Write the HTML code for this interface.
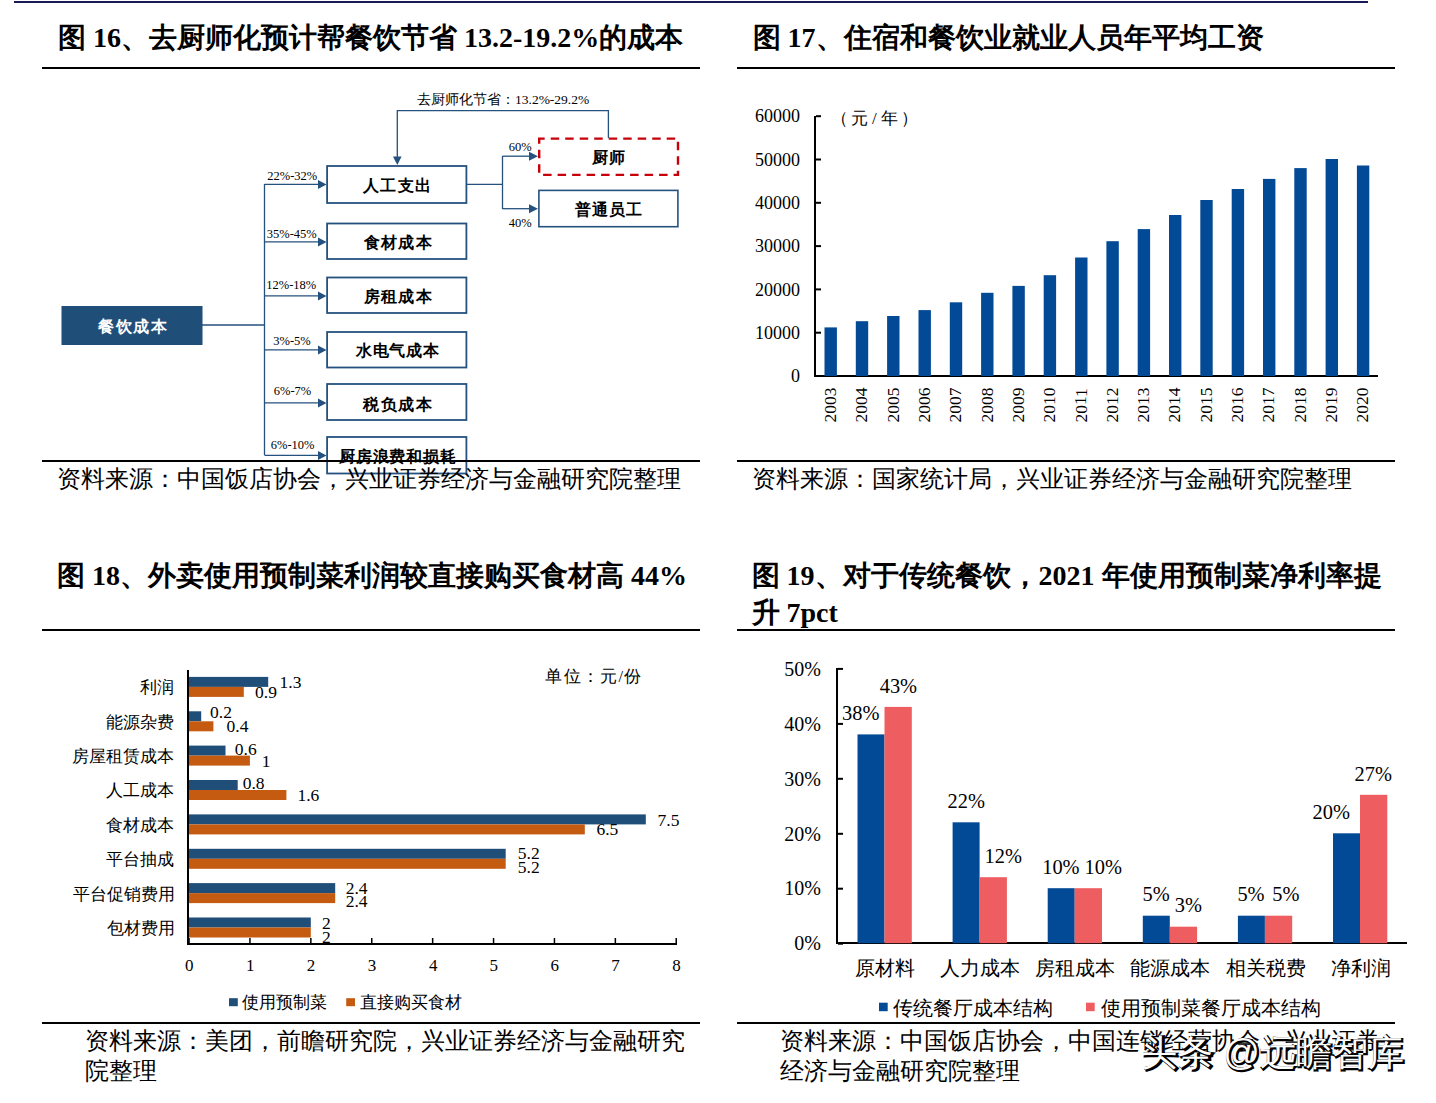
<!DOCTYPE html>
<html><head><meta charset="utf-8">
<style>
html,body{margin:0;padding:0;background:#fff;}
body{width:1436px;height:1103px;overflow:hidden;position:relative;}
svg{position:absolute;left:0;top:0;}
svg{font-family:"Liberation Serif",serif;}
.t{font-weight:bold;font-size:28px;fill:#000;}
.s{font-size:24px;fill:#000;}
</style></head><body>
<svg width="1436" height="1103" viewBox="0 0 1436 1103">
<rect x="61.5" y="306" width="141" height="39" fill="#1f4e79"/>
<line x1="202" y1="325" x2="264.5" y2="325" stroke="#25517e" stroke-width="1.3"/>
<line x1="264.5" y1="184" x2="264.5" y2="455" stroke="#25517e" stroke-width="1.3"/>
<rect x="327.1" y="166" width="139.3" height="37" fill="#fff" stroke="#25517e" stroke-width="1.8"/>
<line x1="264.5" y1="184.4" x2="319" y2="184.4" stroke="#25517e" stroke-width="1.2"/>
<path d="M318 179.9 L326.5 184.4 L318 188.9 Z" fill="#25517e"/>
<rect x="327.1" y="223.5" width="139.3" height="35.5" fill="#fff" stroke="#25517e" stroke-width="1.8"/>
<line x1="264.5" y1="241.9" x2="319" y2="241.9" stroke="#25517e" stroke-width="1.2"/>
<path d="M318 237.4 L326.5 241.9 L318 246.4 Z" fill="#25517e"/>
<rect x="327.1" y="277.5" width="139.3" height="35.5" fill="#fff" stroke="#25517e" stroke-width="1.8"/>
<line x1="264.5" y1="295.9" x2="319" y2="295.9" stroke="#25517e" stroke-width="1.2"/>
<path d="M318 291.4 L326.5 295.9 L318 300.4 Z" fill="#25517e"/>
<rect x="327.1" y="332" width="139.3" height="35.5" fill="#fff" stroke="#25517e" stroke-width="1.8"/>
<line x1="264.5" y1="349.9" x2="319" y2="349.9" stroke="#25517e" stroke-width="1.2"/>
<path d="M318 345.4 L326.5 349.9 L318 354.4 Z" fill="#25517e"/>
<rect x="327.1" y="384" width="139.3" height="36" fill="#fff" stroke="#25517e" stroke-width="1.8"/>
<line x1="264.5" y1="402.9" x2="319" y2="402.9" stroke="#25517e" stroke-width="1.2"/>
<path d="M318 398.4 L326.5 402.9 L318 407.4 Z" fill="#25517e"/>
<rect x="327.1" y="437" width="139.3" height="36.5" fill="#fff" stroke="#25517e" stroke-width="1.8"/>
<line x1="264.5" y1="455.4" x2="319" y2="455.4" stroke="#25517e" stroke-width="1.2"/>
<path d="M318 450.9 L326.5 455.4 L318 459.9 Z" fill="#25517e"/>
<line x1="467" y1="184.3" x2="502.5" y2="184.3" stroke="#25517e" stroke-width="1.3"/>
<line x1="502.5" y1="156" x2="502.5" y2="209" stroke="#25517e" stroke-width="1.3"/>
<line x1="502.5" y1="156.2" x2="530" y2="156.2" stroke="#25517e" stroke-width="1.3"/>
<path d="M529 151.7 L538 156.2 L529 160.7 Z" fill="#25517e"/>
<line x1="502.5" y1="208.7" x2="530" y2="208.7" stroke="#25517e" stroke-width="1.3"/>
<path d="M529 204.2 L538 208.7 L529 213.2 Z" fill="#25517e"/>
<rect x="539.2" y="138.6" width="138.8" height="36.3" fill="none" stroke="#c8000a" stroke-width="2.4" stroke-dasharray="8.5,6" stroke-dashoffset="3"/>
<rect x="538.9" y="190.4" width="139" height="36.3" fill="#fff" stroke="#25517e" stroke-width="1.6"/>
<polyline points="608.4,138 608.4,110.7 397.3,110.7 397.3,157" fill="none" stroke="#25517e" stroke-width="1.3"/>
<path d="M393 156.5 L397.3 165 L401.6 156.5 Z" fill="#25517e"/>
<rect x="814" y="116" width="2" height="261" fill="#000"/>
<rect x="814" y="375" width="564" height="2" fill="#000"/>
<rect x="816" y="375.0" width="5" height="2" fill="#000"/>
<rect x="816" y="331.7" width="5" height="2" fill="#000"/>
<rect x="816" y="288.4" width="5" height="2" fill="#000"/>
<rect x="816" y="245.1" width="5" height="2" fill="#000"/>
<rect x="816" y="201.8" width="5" height="2" fill="#000"/>
<rect x="816" y="158.5" width="5" height="2" fill="#000"/>
<rect x="816" y="115.2" width="5" height="2" fill="#000"/>
<rect x="824.5" y="327.4" width="12.4" height="48.6" fill="#034a96"/>
<path id="yp0" d="M835.9 422.5 L835.9 360" fill="none"/>
<text font-size="17.5" font-family="Liberation Serif"><textPath href="#yp0">2003</textPath></text>
<rect x="855.8" y="321.2" width="12.4" height="54.8" fill="#034a96"/>
<path id="yp1" d="M867.2 422.5 L867.2 360" fill="none"/>
<text font-size="17.5" font-family="Liberation Serif"><textPath href="#yp1">2004</textPath></text>
<rect x="887.1" y="316" width="12.4" height="60.0" fill="#034a96"/>
<path id="yp2" d="M898.5 422.5 L898.5 360" fill="none"/>
<text font-size="17.5" font-family="Liberation Serif"><textPath href="#yp2">2005</textPath></text>
<rect x="918.5" y="310.1" width="12.4" height="65.9" fill="#034a96"/>
<path id="yp3" d="M929.9 422.5 L929.9 360" fill="none"/>
<text font-size="17.5" font-family="Liberation Serif"><textPath href="#yp3">2006</textPath></text>
<rect x="949.8" y="302.3" width="12.4" height="73.7" fill="#034a96"/>
<path id="yp4" d="M961.2 422.5 L961.2 360" fill="none"/>
<text font-size="17.5" font-family="Liberation Serif"><textPath href="#yp4">2007</textPath></text>
<rect x="981.1" y="292.8" width="12.4" height="83.2" fill="#034a96"/>
<path id="yp5" d="M992.5 422.5 L992.5 360" fill="none"/>
<text font-size="17.5" font-family="Liberation Serif"><textPath href="#yp5">2008</textPath></text>
<rect x="1012.4" y="285.9" width="12.4" height="90.1" fill="#034a96"/>
<path id="yp6" d="M1023.8 422.5 L1023.8 360" fill="none"/>
<text font-size="17.5" font-family="Liberation Serif"><textPath href="#yp6">2009</textPath></text>
<rect x="1043.7" y="275.2" width="12.4" height="100.8" fill="#034a96"/>
<path id="yp7" d="M1055.1 422.5 L1055.1 360" fill="none"/>
<text font-size="17.5" font-family="Liberation Serif"><textPath href="#yp7">2010</textPath></text>
<rect x="1075.1" y="257.5" width="12.4" height="118.5" fill="#034a96"/>
<path id="yp8" d="M1086.5 422.5 L1086.5 360" fill="none"/>
<text font-size="17.5" font-family="Liberation Serif"><textPath href="#yp8">2011</textPath></text>
<rect x="1106.4" y="241.2" width="12.4" height="134.8" fill="#034a96"/>
<path id="yp9" d="M1117.8 422.5 L1117.8 360" fill="none"/>
<text font-size="17.5" font-family="Liberation Serif"><textPath href="#yp9">2012</textPath></text>
<rect x="1137.7" y="229.1" width="12.4" height="146.9" fill="#034a96"/>
<path id="yp10" d="M1149.1 422.5 L1149.1 360" fill="none"/>
<text font-size="17.5" font-family="Liberation Serif"><textPath href="#yp10">2013</textPath></text>
<rect x="1169.0" y="215" width="12.4" height="161.0" fill="#034a96"/>
<path id="yp11" d="M1180.4 422.5 L1180.4 360" fill="none"/>
<text font-size="17.5" font-family="Liberation Serif"><textPath href="#yp11">2014</textPath></text>
<rect x="1200.3" y="200" width="12.4" height="176.0" fill="#034a96"/>
<path id="yp12" d="M1211.7 422.5 L1211.7 360" fill="none"/>
<text font-size="17.5" font-family="Liberation Serif"><textPath href="#yp12">2015</textPath></text>
<rect x="1231.7" y="189" width="12.4" height="187.0" fill="#034a96"/>
<path id="yp13" d="M1243.1 422.5 L1243.1 360" fill="none"/>
<text font-size="17.5" font-family="Liberation Serif"><textPath href="#yp13">2016</textPath></text>
<rect x="1263.0" y="178.9" width="12.4" height="197.1" fill="#034a96"/>
<path id="yp14" d="M1274.4 422.5 L1274.4 360" fill="none"/>
<text font-size="17.5" font-family="Liberation Serif"><textPath href="#yp14">2017</textPath></text>
<rect x="1294.3" y="168.1" width="12.4" height="207.9" fill="#034a96"/>
<path id="yp15" d="M1305.7 422.5 L1305.7 360" fill="none"/>
<text font-size="17.5" font-family="Liberation Serif"><textPath href="#yp15">2018</textPath></text>
<rect x="1325.6" y="159" width="12.4" height="217.0" fill="#034a96"/>
<path id="yp16" d="M1337.0 422.5 L1337.0 360" fill="none"/>
<text font-size="17.5" font-family="Liberation Serif"><textPath href="#yp16">2019</textPath></text>
<rect x="1356.9" y="165.5" width="12.4" height="210.5" fill="#034a96"/>
<path id="yp17" d="M1368.3 422.5 L1368.3 360" fill="none"/>
<text font-size="17.5" font-family="Liberation Serif"><textPath href="#yp17">2020</textPath></text>
<rect x="187" y="670" width="2" height="275" fill="#000"/>
<rect x="187" y="943" width="490" height="2" fill="#000"/>
<rect x="188.3" y="938" width="1.5" height="5" fill="#000"/>
<rect x="249.2" y="938" width="1.5" height="5" fill="#000"/>
<rect x="310.1" y="938" width="1.5" height="5" fill="#000"/>
<rect x="371.0" y="938" width="1.5" height="5" fill="#000"/>
<rect x="431.9" y="938" width="1.5" height="5" fill="#000"/>
<rect x="492.8" y="938" width="1.5" height="5" fill="#000"/>
<rect x="553.7" y="938" width="1.5" height="5" fill="#000"/>
<rect x="614.6" y="938" width="1.5" height="5" fill="#000"/>
<rect x="675.5" y="938" width="1.5" height="5" fill="#000"/>
<rect x="189" y="676.9" width="79.2" height="10" fill="#1f4e79"/>
<rect x="189" y="686.9" width="54.8" height="10" fill="#c55a11"/>
<rect x="189" y="711.3" width="12.2" height="10" fill="#1f4e79"/>
<rect x="189" y="721.3" width="24.4" height="10" fill="#c55a11"/>
<rect x="189" y="745.6" width="36.5" height="10" fill="#1f4e79"/>
<rect x="189" y="755.6" width="60.9" height="10" fill="#c55a11"/>
<rect x="189" y="780.0" width="48.7" height="10" fill="#1f4e79"/>
<rect x="189" y="790.0" width="97.4" height="10" fill="#c55a11"/>
<rect x="189" y="814.4" width="456.8" height="10" fill="#1f4e79"/>
<rect x="189" y="824.4" width="395.8" height="10" fill="#c55a11"/>
<rect x="189" y="848.8" width="316.7" height="10" fill="#1f4e79"/>
<rect x="189" y="858.8" width="316.7" height="10" fill="#c55a11"/>
<rect x="189" y="883.1" width="146.2" height="10" fill="#1f4e79"/>
<rect x="189" y="893.1" width="146.2" height="10" fill="#c55a11"/>
<rect x="189" y="917.5" width="121.8" height="10" fill="#1f4e79"/>
<rect x="189" y="927.5" width="121.8" height="10" fill="#c55a11"/>
<rect x="229" y="998.2" width="8.8" height="8" fill="#1f4e79"/>
<rect x="346.2" y="998.2" width="8.8" height="8" fill="#c55a11"/>
<rect x="836" y="668" width="2" height="276" fill="#000"/>
<rect x="836" y="942" width="571" height="2" fill="#000"/>
<rect x="838" y="942.7" width="5" height="2" fill="#000"/>
<rect x="838" y="887.7" width="5" height="2" fill="#000"/>
<rect x="838" y="832.8" width="5" height="2" fill="#000"/>
<rect x="838" y="777.8" width="5" height="2" fill="#000"/>
<rect x="838" y="722.9" width="5" height="2" fill="#000"/>
<rect x="838" y="667.9" width="5" height="2" fill="#000"/>
<rect x="857.5" y="734.4" width="27" height="208.8" fill="#034a96"/>
<rect x="884.5" y="706.9" width="27.3" height="236.3" fill="#ee5e60"/>
<rect x="952.6" y="822.3" width="27" height="120.9" fill="#034a96"/>
<rect x="979.6" y="877.2" width="27.3" height="66.0" fill="#ee5e60"/>
<rect x="1047.7" y="888.2" width="27" height="55.0" fill="#034a96"/>
<rect x="1074.7" y="888.2" width="27.3" height="55.0" fill="#ee5e60"/>
<rect x="1142.8" y="915.7" width="27" height="27.5" fill="#034a96"/>
<rect x="1169.8" y="926.7" width="27.3" height="16.5" fill="#ee5e60"/>
<rect x="1237.9" y="915.7" width="27" height="27.5" fill="#034a96"/>
<rect x="1264.9" y="915.7" width="27.3" height="27.5" fill="#ee5e60"/>
<rect x="1333.0" y="833.3" width="27" height="109.9" fill="#034a96"/>
<rect x="1360.0" y="794.8" width="27.3" height="148.4" fill="#ee5e60"/>
<rect x="879" y="1002.7" width="8.7" height="8.5" fill="#034a96"/>
<rect x="1086" y="1002.7" width="8.7" height="8.5" fill="#ee5e60"/>
<rect x="14" y="1" width="1354" height="2" fill="#1a1a58"/>
<rect x="42" y="67" width="658" height="2" fill="#000"/>
<rect x="42" y="460" width="658" height="2" fill="#000"/>
<rect x="42" y="629" width="658" height="2" fill="#000"/>
<rect x="42" y="1022" width="658" height="2" fill="#000"/>
<rect x="737" y="67" width="658" height="2" fill="#000"/>
<rect x="737" y="460" width="658" height="2" fill="#000"/>
<rect x="737" y="629" width="658" height="2" fill="#000"/>
<rect x="737" y="1022" width="658" height="2" fill="#000"/>
<text x="98.2" y="331.8" font-size="16" font-weight="bold" fill="#fff" font-family="Liberation Serif" textLength="68.4" lengthAdjust="spacing" >餐饮成本</text>
<text x="363.0" y="190.5" font-size="16" font-weight="bold" fill="#000" font-family="Liberation Serif" textLength="67.8" lengthAdjust="spacing" >人工支出</text>
<text x="267.3" y="180.0" font-size="12.5" font-weight="normal" fill="#000" font-family="Liberation Serif" >22%-32%</text>
<text x="363.7" y="247.6" font-size="16" font-weight="bold" fill="#000" font-family="Liberation Serif" textLength="68.0" lengthAdjust="spacing" >食材成本</text>
<text x="266.8" y="238.2" font-size="12.5" font-weight="normal" fill="#000" font-family="Liberation Serif" >35%-45%</text>
<text x="364.1" y="302.0" font-size="16" font-weight="bold" fill="#000" font-family="Liberation Serif" textLength="67.5" lengthAdjust="spacing" >房租成本</text>
<text x="266.3" y="289.1" font-size="12.5" font-weight="normal" fill="#000" font-family="Liberation Serif" >12%-18%</text>
<text x="355.6" y="356.0" font-size="16" font-weight="bold" fill="#000" font-family="Liberation Serif" textLength="83.7" lengthAdjust="spacing" >水电气成本</text>
<text x="273.3" y="344.6" font-size="12.5" font-weight="normal" fill="#000" font-family="Liberation Serif" >3%-5%</text>
<text x="363.2" y="409.5" font-size="16" font-weight="bold" fill="#000" font-family="Liberation Serif" textLength="68.4" lengthAdjust="spacing" >税负成本</text>
<text x="273.8" y="394.8" font-size="12.5" font-weight="normal" fill="#000" font-family="Liberation Serif" >6%-7%</text>
<text x="338.7" y="461.5" font-size="16" font-weight="bold" fill="#000" font-family="Liberation Serif" textLength="117.4" lengthAdjust="spacing" >厨房浪费和损耗</text>
<text x="270.8" y="448.6" font-size="12.5" font-weight="normal" fill="#000" font-family="Liberation Serif" >6%-10%</text>
<text x="591.6" y="163.2" font-size="16" font-weight="bold" fill="#000" font-family="Liberation Serif" textLength="33.4" lengthAdjust="spacing" >厨师</text>
<text x="575.4" y="215.0" font-size="16" font-weight="bold" fill="#000" font-family="Liberation Serif" textLength="66.8" lengthAdjust="spacing" >普通员工</text>
<text x="508.7" y="151.4" font-size="12.5" font-weight="normal" fill="#000" font-family="Liberation Serif" >60%</text>
<text x="508.7" y="227.3" font-size="12.5" font-weight="normal" fill="#000" font-family="Liberation Serif" >40%</text>
<text y="103.5" font-size="13.5" font-weight="normal" fill="#000" font-family="Liberation Serif" ><tspan x="417.0" textLength="98.0" lengthAdjust="spacing">去厨师化节省：</tspan><tspan x="515.0">13.2%-29.2%</tspan></text>
<text x="791.0" y="382.2" font-size="18" font-weight="normal" fill="#000" font-family="Liberation Serif" >0</text>
<text x="755.0" y="338.9" font-size="18" font-weight="normal" fill="#000" font-family="Liberation Serif" >10000</text>
<text x="755.0" y="295.6" font-size="18" font-weight="normal" fill="#000" font-family="Liberation Serif" >20000</text>
<text x="755.0" y="252.3" font-size="18" font-weight="normal" fill="#000" font-family="Liberation Serif" >30000</text>
<text x="755.0" y="209.0" font-size="18" font-weight="normal" fill="#000" font-family="Liberation Serif" >40000</text>
<text x="755.0" y="165.7" font-size="18" font-weight="normal" fill="#000" font-family="Liberation Serif" >50000</text>
<text x="755.0" y="122.4" font-size="18" font-weight="normal" fill="#000" font-family="Liberation Serif" >60000</text>
<text x="830.5" y="123.5" font-size="17" font-weight="normal" fill="#000" font-family="Liberation Serif" textLength="87.9" lengthAdjust="spacing" >（元/年）</text>
<text x="185.0" y="970.8" font-size="17" font-weight="normal" fill="#000" font-family="Liberation Serif" >0</text>
<text x="245.9" y="970.8" font-size="17" font-weight="normal" fill="#000" font-family="Liberation Serif" >1</text>
<text x="306.8" y="970.8" font-size="17" font-weight="normal" fill="#000" font-family="Liberation Serif" >2</text>
<text x="367.7" y="970.8" font-size="17" font-weight="normal" fill="#000" font-family="Liberation Serif" >3</text>
<text x="429.1" y="970.8" font-size="17" font-weight="normal" fill="#000" font-family="Liberation Serif" >4</text>
<text x="489.5" y="970.8" font-size="17" font-weight="normal" fill="#000" font-family="Liberation Serif" >5</text>
<text x="550.4" y="970.8" font-size="17" font-weight="normal" fill="#000" font-family="Liberation Serif" >6</text>
<text x="611.3" y="970.8" font-size="17" font-weight="normal" fill="#000" font-family="Liberation Serif" >7</text>
<text x="672.2" y="970.8" font-size="17" font-weight="normal" fill="#000" font-family="Liberation Serif" >8</text>
<text x="139.5" y="693.4" font-size="17" font-weight="normal" fill="#000" font-family="Liberation Serif" textLength="34.0" lengthAdjust="spacing" >利润</text>
<text x="279.5" y="687.8" font-size="17.5" font-weight="normal" fill="#000" font-family="Liberation Serif" >1.3</text>
<text x="255.1" y="698.0" font-size="17.5" font-weight="normal" fill="#000" font-family="Liberation Serif" >0.9</text>
<text x="105.5" y="727.8" font-size="17" font-weight="normal" fill="#000" font-family="Liberation Serif" textLength="68.0" lengthAdjust="spacing" >能源杂费</text>
<text x="210.0" y="717.7" font-size="17.5" font-weight="normal" fill="#000" font-family="Liberation Serif" >0.2</text>
<text x="226.5" y="731.6" font-size="17.5" font-weight="normal" fill="#000" font-family="Liberation Serif" >0.4</text>
<text x="71.5" y="761.6" font-size="17" font-weight="normal" fill="#000" font-family="Liberation Serif" textLength="102.0" lengthAdjust="spacing" >房屋租赁成本</text>
<text x="234.8" y="755.0" font-size="17.5" font-weight="normal" fill="#000" font-family="Liberation Serif" >0.6</text>
<text x="261.7" y="766.5" font-size="17.5" font-weight="normal" fill="#000" font-family="Liberation Serif" >1</text>
<text x="105.5" y="796.0" font-size="17" font-weight="normal" fill="#000" font-family="Liberation Serif" textLength="68.0" lengthAdjust="spacing" >人工成本</text>
<text x="242.7" y="788.6" font-size="17.5" font-weight="normal" fill="#000" font-family="Liberation Serif" >0.8</text>
<text x="297.4" y="800.7" font-size="17.5" font-weight="normal" fill="#000" font-family="Liberation Serif" >1.6</text>
<text x="105.5" y="830.9" font-size="17" font-weight="normal" fill="#000" font-family="Liberation Serif" textLength="68.0" lengthAdjust="spacing" >食材成本</text>
<text x="657.5" y="826.0" font-size="17.5" font-weight="normal" fill="#000" font-family="Liberation Serif" >7.5</text>
<text x="596.4" y="835.3" font-size="17.5" font-weight="normal" fill="#000" font-family="Liberation Serif" >6.5</text>
<text x="105.5" y="865.2" font-size="17" font-weight="normal" fill="#000" font-family="Liberation Serif" textLength="68.0" lengthAdjust="spacing" >平台抽成</text>
<text x="517.8" y="859.2" font-size="17.5" font-weight="normal" fill="#000" font-family="Liberation Serif" >5.2</text>
<text x="517.8" y="872.8" font-size="17.5" font-weight="normal" fill="#000" font-family="Liberation Serif" >5.2</text>
<text x="72.5" y="899.6" font-size="17" font-weight="normal" fill="#000" font-family="Liberation Serif" textLength="102.0" lengthAdjust="spacing" >平台促销费用</text>
<text x="345.7" y="893.7" font-size="17.5" font-weight="normal" fill="#000" font-family="Liberation Serif" >2.4</text>
<text x="345.7" y="906.6" font-size="17.5" font-weight="normal" fill="#000" font-family="Liberation Serif" >2.4</text>
<text x="106.5" y="934.0" font-size="17" font-weight="normal" fill="#000" font-family="Liberation Serif" textLength="68.0" lengthAdjust="spacing" >包材费用</text>
<text x="322.0" y="929.0" font-size="17.5" font-weight="normal" fill="#000" font-family="Liberation Serif" >2</text>
<text x="322.0" y="942.6" font-size="17.5" font-weight="normal" fill="#000" font-family="Liberation Serif" >2</text>
<text x="545.3" y="681.5" font-size="16.5" font-weight="normal" fill="#000" font-family="Liberation Serif" textLength="96.0" lengthAdjust="spacing" >单位：元/份</text>
<text x="241.8" y="1008.1" font-size="16.7" font-weight="normal" fill="#000" font-family="Liberation Serif" textLength="85.0" lengthAdjust="spacing" >使用预制菜</text>
<text x="360.1" y="1008.1" font-size="16.7" font-weight="normal" fill="#000" font-family="Liberation Serif" textLength="102.0" lengthAdjust="spacing" >直接购买食材</text>
<text x="794.3" y="950.4" font-size="20" font-weight="normal" fill="#000" font-family="Liberation Serif" >0%</text>
<text x="784.3" y="895.4" font-size="20" font-weight="normal" fill="#000" font-family="Liberation Serif" >10%</text>
<text x="784.3" y="840.5" font-size="20" font-weight="normal" fill="#000" font-family="Liberation Serif" >20%</text>
<text x="784.3" y="785.5" font-size="20" font-weight="normal" fill="#000" font-family="Liberation Serif" >30%</text>
<text x="784.3" y="730.6" font-size="20" font-weight="normal" fill="#000" font-family="Liberation Serif" >40%</text>
<text x="784.3" y="675.6" font-size="20" font-weight="normal" fill="#000" font-family="Liberation Serif" >50%</text>
<text x="855.0" y="974.8" font-size="19.7" font-weight="normal" fill="#000" font-family="Liberation Serif" textLength="60.0" lengthAdjust="spacing" >原材料</text>
<text x="842.1" y="719.8" font-size="20.4" font-weight="normal" fill="#000" font-family="Liberation Serif" >38%</text>
<text x="879.7" y="692.6" font-size="20.4" font-weight="normal" fill="#000" font-family="Liberation Serif" >43%</text>
<text x="940.1" y="974.8" font-size="19.7" font-weight="normal" fill="#000" font-family="Liberation Serif" textLength="80.0" lengthAdjust="spacing" >人力成本</text>
<text x="947.5" y="807.8" font-size="20.4" font-weight="normal" fill="#000" font-family="Liberation Serif" >22%</text>
<text x="984.6" y="862.7" font-size="20.4" font-weight="normal" fill="#000" font-family="Liberation Serif" >12%</text>
<text x="1035.2" y="974.8" font-size="19.7" font-weight="normal" fill="#000" font-family="Liberation Serif" textLength="80.0" lengthAdjust="spacing" >房租成本</text>
<text x="1042.2" y="873.8" font-size="20.4" font-weight="normal" fill="#000" font-family="Liberation Serif" >10%</text>
<text x="1084.5" y="873.8" font-size="20.4" font-weight="normal" fill="#000" font-family="Liberation Serif" >10%</text>
<text x="1130.3" y="974.8" font-size="19.7" font-weight="normal" fill="#000" font-family="Liberation Serif" textLength="80.0" lengthAdjust="spacing" >能源成本</text>
<text x="1142.5" y="900.7" font-size="20.4" font-weight="normal" fill="#000" font-family="Liberation Serif" >5%</text>
<text x="1174.7" y="911.8" font-size="20.4" font-weight="normal" fill="#000" font-family="Liberation Serif" >3%</text>
<text x="1225.9" y="974.8" font-size="19.7" font-weight="normal" fill="#000" font-family="Liberation Serif" textLength="80.0" lengthAdjust="spacing" >相关税费</text>
<text x="1237.4" y="900.7" font-size="20.4" font-weight="normal" fill="#000" font-family="Liberation Serif" >5%</text>
<text x="1272.2" y="900.7" font-size="20.4" font-weight="normal" fill="#000" font-family="Liberation Serif" >5%</text>
<text x="1330.5" y="974.8" font-size="19.7" font-weight="normal" fill="#000" font-family="Liberation Serif" textLength="60.0" lengthAdjust="spacing" >净利润</text>
<text x="1312.5" y="818.8" font-size="20.4" font-weight="normal" fill="#000" font-family="Liberation Serif" >20%</text>
<text x="1354.5" y="780.7" font-size="20.4" font-weight="normal" fill="#000" font-family="Liberation Serif" >27%</text>
<text x="893.0" y="1014.5" font-size="19.7" font-weight="normal" fill="#000" font-family="Liberation Serif" textLength="160.0" lengthAdjust="spacing" >传统餐厅成本结构</text>
<text x="1101.0" y="1014.5" font-size="19.7" font-weight="normal" fill="#000" font-family="Liberation Serif" textLength="220.0" lengthAdjust="spacing" >使用预制菜餐厅成本结构</text>
<text y="47.0" font-size="28" font-weight="bold" fill="#000" font-family="Liberation Serif" ><tspan x="58.0" textLength="28.0" lengthAdjust="spacing">图</tspan><tspan x="86.0"> 16</tspan><tspan x="121.0" textLength="336.0" lengthAdjust="spacing">、去厨师化预计帮餐饮节省</tspan><tspan x="457.0"> 13.2-19.2%</tspan><tspan x="599.3" textLength="84.0" lengthAdjust="spacing">的成本</tspan></text>
<text y="47.0" font-size="28" font-weight="bold" fill="#000" font-family="Liberation Serif" ><tspan x="752.5" textLength="28.0" lengthAdjust="spacing">图</tspan><tspan x="780.5"> 17</tspan><tspan x="815.5" textLength="448.0" lengthAdjust="spacing">、住宿和餐饮业就业人员年平均工资</tspan></text>
<text y="585.0" font-size="28" font-weight="bold" fill="#000" font-family="Liberation Serif" ><tspan x="57.0" textLength="28.0" lengthAdjust="spacing">图</tspan><tspan x="85.0"> 18</tspan><tspan x="120.0" textLength="504.0" lengthAdjust="spacing">、外卖使用预制菜利润较直接购买食材高</tspan><tspan x="624.0"> 44%</tspan></text>
<text y="585.0" font-size="28" font-weight="bold" fill="#000" font-family="Liberation Serif" ><tspan x="751.5" textLength="28.0" lengthAdjust="spacing">图</tspan><tspan x="779.5"> 19</tspan><tspan x="814.5" textLength="224.0" lengthAdjust="spacing">、对于传统餐饮，</tspan><tspan x="1038.5">2021 </tspan><tspan x="1101.5" textLength="280.0" lengthAdjust="spacing">年使用预制菜净利率提</tspan></text>
<text y="622.0" font-size="28" font-weight="bold" fill="#000" font-family="Liberation Serif" ><tspan x="751.5" textLength="28.0" lengthAdjust="spacing">升</tspan><tspan x="779.5"> 7pct</tspan></text>
<text x="56.5" y="487.0" font-size="24" font-weight="normal" fill="#000" font-family="Liberation Serif" textLength="624.0" lengthAdjust="spacing" >资料来源：中国饭店协会，兴业证券经济与金融研究院整理</text>
<text x="751.5" y="487.0" font-size="24" font-weight="normal" fill="#000" font-family="Liberation Serif" textLength="600.0" lengthAdjust="spacing" >资料来源：国家统计局，兴业证券经济与金融研究院整理</text>
<text x="84.5" y="1049.0" font-size="24" font-weight="normal" fill="#000" font-family="Liberation Serif" textLength="600.0" lengthAdjust="spacing" >资料来源：美团，前瞻研究院，兴业证券经济与金融研究</text>
<text x="84.5" y="1079.0" font-size="24" font-weight="normal" fill="#000" font-family="Liberation Serif" textLength="72.0" lengthAdjust="spacing" >院整理</text>
<text x="780.0" y="1049.0" font-size="24" font-weight="normal" fill="#000" font-family="Liberation Serif" textLength="600.0" lengthAdjust="spacing" >资料来源：中国饭店协会，中国连锁经营协会，兴业证券</text>
<text x="780.0" y="1079.0" font-size="24" font-weight="normal" fill="#000" font-family="Liberation Serif" textLength="240.0" lengthAdjust="spacing" >经济与金融研究院整理</text>
<text y="1066.0" font-size="36" font-weight="normal" fill="#000" font-family="Liberation Sans" stroke="#000" stroke-width="2.4"><tspan x="1142.5" textLength="72.0" lengthAdjust="spacing">头条</tspan><tspan x="1214.5"> @</tspan><tspan x="1261.0" textLength="144.0" lengthAdjust="spacing">远瞻智库</tspan></text>
<text y="1064.8" font-size="36" font-weight="normal" fill="#fff" font-family="Liberation Sans" ><tspan x="1141.3" textLength="72.0" lengthAdjust="spacing">头条</tspan><tspan x="1213.3"> @</tspan><tspan x="1259.8" textLength="144.0" lengthAdjust="spacing">远瞻智库</tspan></text>
</svg></body></html>
